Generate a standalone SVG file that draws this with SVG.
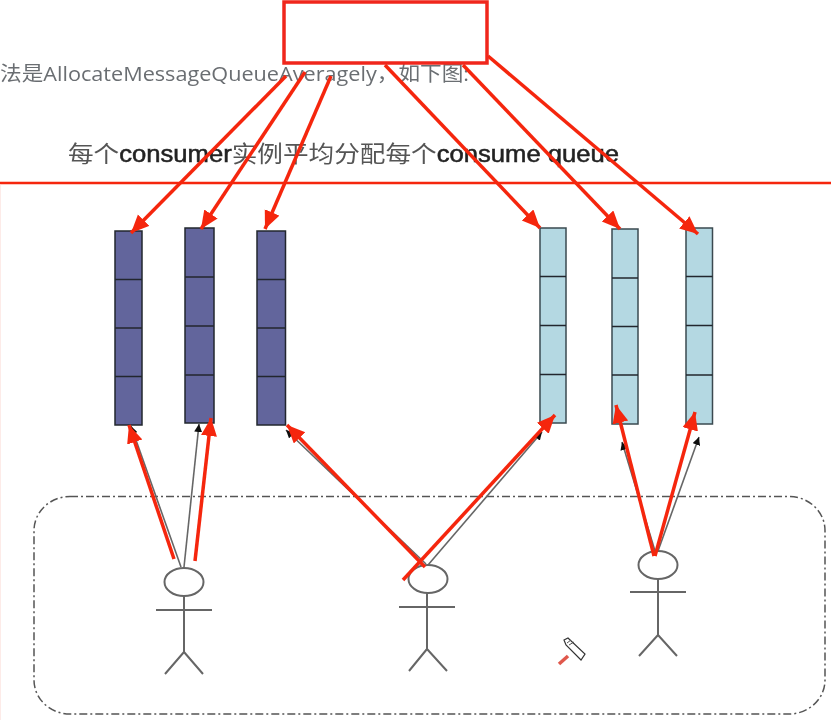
<svg xmlns="http://www.w3.org/2000/svg" width="831" height="720" viewBox="0 0 831 720">
<defs>
<marker id="red" markerUnits="userSpaceOnUse" markerWidth="20" markerHeight="18" refX="18" refY="8" orient="auto"><path d="M0 0L18 8L0 16Z" fill="#f5260f"/></marker>
<marker id="blk" markerUnits="userSpaceOnUse" markerWidth="9" markerHeight="8" refX="8" refY="4" orient="auto"><path d="M0 0L8 4L0 8Z" fill="#111"/></marker>
<filter id="soft" x="-5%" y="-5%" width="110%" height="110%"><feGaussianBlur stdDeviation="0.5"/></filter>
</defs>
<style>
.bg{fill:#fff}
.r{stroke:#f5260f;stroke-width:3.5;fill:none;stroke-linecap:butt}
.ra{marker-end:url(#red)}
.g{stroke:#666;stroke-width:1.6;fill:none;marker-end:url(#blk)}
.a{stroke:#666;stroke-width:2;fill:#fff}
.a2{stroke:#666;stroke-width:2;fill:none}
.p{fill:#62659c;stroke:#22262e;stroke-width:1.5}
.b{fill:#b4d8e2;stroke:#3a4a50;stroke-width:1.5}
.d{stroke:#22262e;stroke-width:1.3;fill:none}
.t1{font-family:"Open Sans","Noto Sans CJK SC",sans-serif;font-size:20px;fill:#6a6e72}
.t2{font-family:"Liberation Sans","Noto Sans CJK SC",sans-serif;font-size:23px;fill:#555}
.t2 tspan{fill:#222;stroke:#222;stroke-width:.5}
</style>
<rect class="bg" width="831" height="720"/>
<g filter="url(#soft)">
<text class="t1" x="0" y="81" textLength="469" lengthAdjust="spacingAndGlyphs">法是AllocateMessageQueueAveragely，如下图:</text>
<text class="t2" x="68" y="162" textLength="551" lengthAdjust="spacingAndGlyphs">每个<tspan>consumer</tspan>实例平均分配每个<tspan>consume queue</tspan></text>
<path id="boundary" d="M0 183H831" stroke="#f5260f" stroke-width="2.5" fill="none"/>
<path d="M0 184V720" stroke="#fbd8d2" stroke-width="1" fill="none"/>
<rect id="group-frame" x="34" y="496.500" width="791" height="217.500" rx="36" ry="34" fill="none" stroke="#555" stroke-width="1.500" stroke-dasharray="8 3 2 3"/>
<g id="queue-p1"><rect class="p" x="115" y="231" width="27" height="194"/><path class="d" d="M115 279.500H142M115 328H142M115 376.500H142"/></g>
<g id="queue-p2"><rect class="p" x="185" y="228" width="29" height="195"/><path class="d" d="M185 277H214M185 326H214M185 375H214"/></g>
<g id="queue-p3"><rect class="p" x="257" y="231" width="28.500" height="194"/><path class="d" d="M257 279.500H285.500M257 328H285.500M257 376.500H285.500"/></g>
<g id="queue-b1"><rect class="b" x="540" y="228" width="26" height="195"/><path class="d" d="M540 276.500H566M540 325.500H566M540 374.500H566"/></g>
<g id="queue-b2"><rect class="b" x="612" y="229" width="26" height="195"/><path class="d" d="M612 278H638M612 326.500H638M612 375H638"/></g>
<g id="queue-b3"><rect class="b" x="686" y="228" width="26.500" height="196"/><path class="d" d="M686 276.500H712.500M686 325.500H712.500M686 375H712.500"/></g>
<g id="actor-1"><ellipse class="a" cx="184" cy="582" rx="19.500" ry="14"/><path class="a2" d="M184 596V652M156 610H212M184 652L165 674M184 652L203 674"/></g>
<g id="actor-2"><ellipse class="a" cx="428" cy="579" rx="19.500" ry="14"/><path class="a2" d="M427 593V649M399 607H455M427 649L409 671M427 649L447 671"/></g>
<g id="actor-3"><ellipse class="a" cx="658" cy="565" rx="19.500" ry="14"/><path class="a2" d="M658 579V635M630 592H686M658 635L639 656M658 635L677 656"/></g>
<g id="connectors">
<path class="g" d="M181 567L131 426"/>
<path class="g" d="M184 567L199 424"/>
<path class="g" d="M426 564L286 430"/>
<path class="g" d="M428 565L542 432"/>
<path class="g" d="M655 551L622 442"/>
<path class="g" d="M658 551L699 437"/>
<path class="r ra" d="M286 76L131 233"/>
<path class="r ra" d="M305 72L201 229"/>
<path class="r ra" d="M331 76L265 229"/>
<path class="r ra" d="M385 65L540 228"/>
<path class="r ra" d="M463 65L620 229"/>
<path class="r ra" d="M488 56L698 234"/>
<path class="r ra" d="M174 559L129 425"/>
<path class="r ra" d="M195 561L211 418"/>
<path class="r ra" d="M425 567L287 425"/>
<path class="r ra" d="M403 580L555 415"/>
<path class="r ra" d="M654 556L616 405"/>
<path class="r ra" d="M655 556L695 412"/>
</g>
<rect id="top-box" x="284" y="2" width="203" height="61" fill="#fff" stroke="#f0261a" stroke-width="3.500"/>
<g id="pencil-cursor"><path d="M564 640L568 638L585 654L581 660L566 645Z" fill="#fff" stroke="#333" stroke-width="1.200"/><path d="M567 643L571 640M569 645L574 642" stroke="#555" stroke-width="1" fill="none"/><path d="M559 664L568 656" stroke="#e0584c" stroke-width="3.500"/></g>
</g>
</svg>
